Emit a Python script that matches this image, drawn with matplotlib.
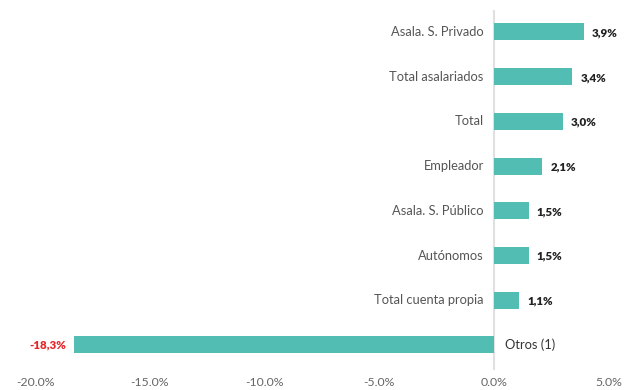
import matplotlib.pyplot as plt

plt.rcParams['font.family'] = ['Lato', 'DejaVu Sans']

categories = ['Asala. S. Privado', 'Total asalariados', 'Total', 'Empleador',
              'Asala. S. Público', 'Autónomos', 'Total cuenta propia', 'Otros (1)']
values = [3.9, 3.4, 3.0, 2.1, 1.5, 1.5, 1.1, -18.3]
value_labels = ['3,9%', '3,4%', '3,0%', '2,1%', '1,5%', '1,5%', '1,1%', '-18,3%']
xticks = [-20, -15, -10, -5, 0, 5]
xtick_labels = ['-20.0%', '-15.0%', '-10.0%', '-5.0%', '0.0%', '5.0%']

teal = '#52bdb3'
ypos = [len(categories) - 1 - i for i in range(len(categories))]

fig = plt.figure(figsize=(6.24, 3.9), dpi=100)
ax = fig.add_axes([35 / 624, 20 / 390, 574 / 624, 360 / 390])

ax.barh(ypos, values, height=0.38, color=teal, zorder=2)
ax.axvline(0, color='#e0e0e0', lw=1.5, zorder=1)

for y, v, lab, cat in zip(ypos, values, value_labels, categories):
    if v >= 0:
        ax.text(v + 0.35, y - 0.02, lab, ha='left', va='center', fontsize=8.3,
                fontweight='heavy', color='#222222')
        ax.text(-0.45, y, cat, ha='right', va='center', fontsize=9.3, color='#555555')
    else:
        ax.text(v - 0.35, y, lab, ha='right', va='center', fontsize=8.3,
                fontweight='heavy', color='#e8262a')
        ax.text(0.45, y, cat, ha='left', va='center', fontsize=9.3, color='#333333')

ax.set_xlim(-20, 5)
ax.set_ylim(-0.56, 7.49)
ax.set_xticks(xticks)
ax.set_xticklabels(xtick_labels, fontsize=8.8, color='#666666')
ax.set_yticks([])
ax.tick_params(axis='x', length=0, pad=5)
for s in ax.spines.values():
    s.set_visible(False)

plt.savefig('out.png', dpi=100)
plt.close()
